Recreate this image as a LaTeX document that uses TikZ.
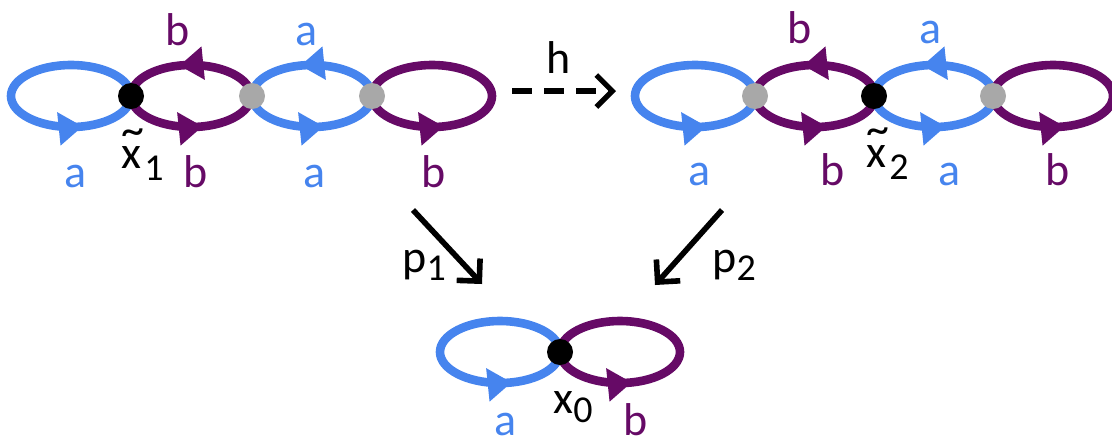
\documentclass[tikz,border=0pt]{standalone}
\usepackage{fontspec}
\setmainfont{Carlito}
\usepackage{tikz}
\usetikzlibrary{backgrounds,arrows.meta,decorations.markings}
\usepackage{xcolor}
\definecolor{loopblue}{RGB}{70,132,238}
\definecolor{looppurple}{RGB}{102,10,102}
\definecolor{dotgray}{RGB}{168,168,168}
% tiefgestellte Ziffer, x mit Tilde
\newcommand{\lowsub}[2][6pt]{\raisebox{-#1}{\fontsize{19}{19}\selectfont #2}}
\newcommand{\tildex}{\makebox[0pt][l]{\raisebox{0.5em}{\textasciitilde}}x\kern1.5pt}

\begin{document}
\begin{tikzpicture}[x=0.5pt, y=0.5pt,
		font=\fontsize{23}{27}\selectfont,
		lp/.style={line width=4.3pt},
		tip/.style={postaction={decorate,decoration={markings,
			mark=at position #1 with {\arrow{Triangle[length=12pt,width=16pt]}}}}},
		pt/.style={circle, inner sep=0pt, minimum size=13pt, fill=#1},
		lab/.style={anchor=base, inner sep=0pt},
		map/.style={line width=2.8pt, -{Straight Barb[length=8pt,width=16pt]}}]
		\useasboundingbox (0,0) rectangle (1112,-447);
		% Punkte
		\node[pt=black]   (l1) at (131,-96) {};
		\node[pt=dotgray] (l2) at (252,-96) {};
		\node[pt=dotgray] (l3) at (372,-96) {};
		\node[pt=dotgray] (r1) at (755,-96) {};
		\node[pt=black]   (r2) at (874,-96) {};
		\node[pt=dotgray] (r3) at (993,-96) {};
		\node[pt=black]   (o)  at (560,-352) {};
		% Schleifen
		\begin{scope}[on background layer]
			% oben links
			\draw[lp,loopblue,tip=0.79] (l1.center) arc[start angle=0, end angle=360, x radius=30pt, y radius=15.5pt];
			\draw[lp,looppurple,tip=0.29,tip=0.79] (l1.center) arc[start angle=180, end angle=540, x radius=30pt, y radius=15.5pt];
			\draw[lp,loopblue,tip=0.29,tip=0.79] (l2.center) arc[start angle=180, end angle=540, x radius=30pt, y radius=15.5pt];
			\draw[lp,looppurple,tip=0.29] (l3.center) arc[start angle=180, end angle=540, x radius=30pt, y radius=15.5pt];
			% oben rechts
			\draw[lp,loopblue,tip=0.79] (r1.center) arc[start angle=0, end angle=360, x radius=30pt, y radius=15.5pt];
			\draw[lp,looppurple,tip=0.29,tip=0.79] (r1.center) arc[start angle=180, end angle=540, x radius=30pt, y radius=15.5pt];
			\draw[lp,loopblue,tip=0.29,tip=0.79] (r2.center) arc[start angle=180, end angle=540, x radius=30pt, y radius=15.5pt];
			\draw[lp,looppurple,tip=0.29] (r3.center) arc[start angle=180, end angle=540, x radius=30pt, y radius=15.5pt];
			% unten
			\draw[lp,loopblue,tip=0.79] (o.center) arc[start angle=0, end angle=360, x radius=30pt, y radius=15.5pt];
			\draw[lp,looppurple,tip=0.29] (o.center) arc[start angle=180, end angle=540, x radius=30pt, y radius=15.5pt];
		\end{scope}
		% Beschriftung a, b
		\foreach \x/\y/\t/\c in {178/45/b/looppurple, 307/45/a/loopblue, 76/187/a/loopblue, 196/187/b/looppurple,
			315/187/a/loopblue, 434/187/b/looppurple, 800/43/b/looppurple, 931/43/a/loopblue, 700/185/a/loopblue,
			833/185/b/looppurple, 950/185/a/loopblue, 1058/185/b/looppurple, 506/435/a/loopblue, 636/435/b/looppurple}
			\node[lab,text=\c] (t\x) at (\x,-\y) {\t};
		% Basispunkte
		\node[lab,anchor=base west] (xa) at (121,-168) {\tildex\lowsub{1}};
		\node[lab,anchor=base west] (xb) at (866,-167) {\tildex\lowsub{2}};
		\node[lab,anchor=base west] (xo) at (553,-413) {x\lowsub[4.5pt]{0}};
		% Abbildungen
		\coordinate (p1s) at (413,-210);
		\coordinate (p1e) at (482,-284);
		\coordinate (p2s) at (722,-210);
		\coordinate (p2e) at (655,-285);
		\coordinate (hs) at (512,-91);
		\coordinate (he) at (616,-91);
		\draw[map] (p1s) -- (p1e);
		\draw[map] (p2s) -- (p2e);
		\draw[map,line width=2.6pt,dash pattern=on 10pt off 6pt] (hs) -- (he);
		\node[lab,anchor=base west] (pa) at (402,-272) {p\lowsub[4pt]{1}};
		\node[lab,anchor=base west] (pb) at (712,-272) {p\lowsub[4pt]{2}};
		\node[lab] (hl) at (559,-73) {h};
	\end{tikzpicture}
\end{document}
